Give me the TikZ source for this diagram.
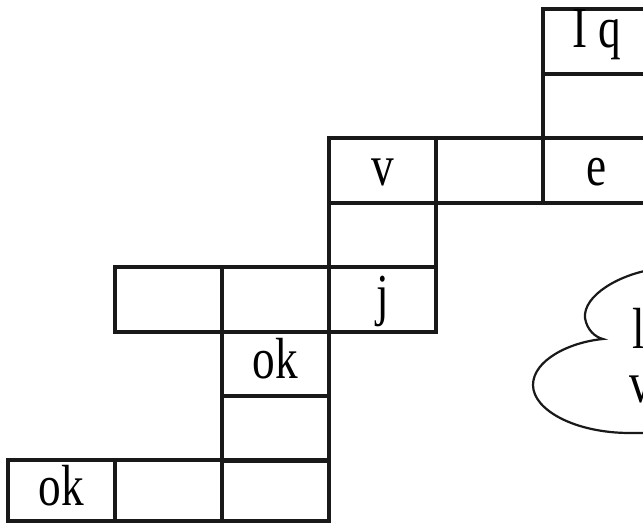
\documentclass[tikz,border=0pt]{standalone}
\usepackage{fontspec}
\setmainfont{Liberation Serif}
\newcommand{\condtxt}[1]{\scalebox{0.78}[1]{#1}}
\begin{document}
\begin{tikzpicture}[x=1pt,y=-1pt,
  cell/.style={draw=black!90, line width=4pt, minimum width=107pt, minimum height=64.5pt,
    inner sep=0pt, outer sep=0pt, text height=30pt, text depth=0pt,
    font=\fontsize{58}{58}\selectfont},
  lowcell/.style={cell, minimum height=61pt},
  cloudline/.style={draw=black!90, line width=2.2pt},
  cloudtext/.style={inner sep=0pt, font=\fontsize{58}{58}\selectfont}]
\useasboundingbox (0,0) rectangle (643,523);
\clip (0,0) rectangle (643,523);
% column centres: 61.5 168.5 275.5 382.5 489.5 596.5
\node[cell] (iq) at (596.5,41.25) {\raisebox{9pt}{\condtxt{I q}}};
\node[cell] (r1c5) at (596.5,105.75) {};
\node[cell] (v) at (382.5,170.25) {\condtxt{v}};
\node[cell] (r2c4) at (489.5,170.25) {};
\node[cell] (e) at (596.5,170.25) {\condtxt{e}};
\node[cell] (r3c3) at (382.5,234.75) {};
\node[cell] (r4c1) at (168.5,299.25) {};
\node[cell] (r4c2) at (275.5,299.25) {};
\node[cell] (j) at (382.5,299.25) {\condtxt{j}};
\node[cell] (ok1) at (275.5,363.75) {\condtxt{ok}};
\node[cell] (r6c2) at (275.5,428.25) {};
\node[lowcell] (ok2) at (61.5,490.5) {\condtxt{ok}};
\node[lowcell] (r7c1) at (168.5,490.5) {};
\node[lowcell] (r7c2) at (275.5,490.5) {};
% cloud
\draw[cloudline] (650,270) .. controls (620,275) and (583,295) .. (585,318)
  .. controls (587,330) and (595,337) .. (603,339)
  .. controls (570,342) and (533,360) .. (533,385)
  .. controls (533,410) and (575,433) .. (630,433) -- (650,433);
\node[cloudtext, anchor=base west] (cl1) at (632,348) {\condtxt{l}};
\node[cloudtext, anchor=base west] (cl2) at (629,402) {\condtxt{v}};
\end{tikzpicture}
\end{document}
